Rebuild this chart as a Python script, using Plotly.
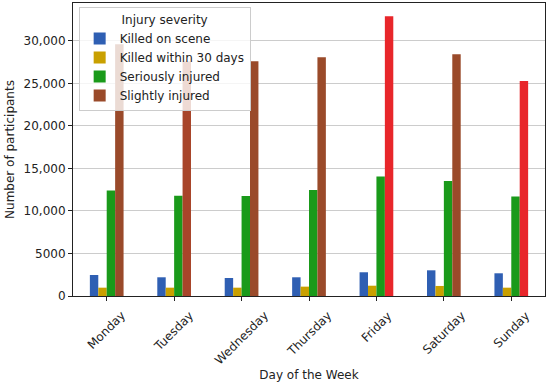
import plotly.graph_objects as go

days = ["Monday", "Tuesday", "Wednesday", "Thursday", "Friday", "Saturday", "Sunday"]
killed_on_scene = [2470, 2200, 2120, 2200, 2790, 3020, 2670]
killed_30_days = [980, 980, 980, 1100, 1210, 1180, 980]
seriously_injured = [12390, 11800, 11760, 12470, 14040, 13530, 11690]
slightly_injured = [29600, 27560, 27600, 28080, 32900, 28430, 25290]
series_names = ["Killed on scene", "Killed within 30 days", "Seriously injured", "Slightly injured"]
y_tickvals = [0, 5000, 10000, 15000, 20000, 25000, 30000]
y_ticktext = ["0", "5000", "10,000", "15,000", "20,000", "25,000", "30,000"]

FONT = "DejaVu Sans, Arial, sans-serif"
slight_colors = ["#9a4a2a", "#a8452a", "#9a4a2a", "#9a4a2a", "#e8262a", "#9a4a2a", "#e8262a"]
colors = ["#2f5fb3", "#c9a000", "#1a9a1a", slight_colors]

fig = go.Figure()
for name, vals, col in zip(series_names,
                           [killed_on_scene, killed_30_days, seriously_injured, slightly_injured],
                           colors):
    fig.add_trace(go.Bar(x=days, y=vals, name=name, marker=dict(color=col, line=dict(width=0))))

annotations = []
for d in days:
    annotations.append(dict(x=d, y=0, xref="x", yref="y", text=d, showarrow=False,
                            textangle=-45, xanchor="center", yanchor="top", yshift=-10,
                            font=dict(family=FONT, size=12, color="#222")))

fig.update_layout(
    width=550, height=385,
    margin=dict(l=73, r=5, t=3, b=89),
    paper_bgcolor="white", plot_bgcolor="white",
    barmode="group", bargap=0.5, bargroupgap=0,
    font=dict(family=FONT, size=12, color="#222"),
    showlegend=True,
    legend=dict(
        title=dict(text="Injury severity", side="top center", font=dict(size=12)),
        x=0.012, y=0.985, xanchor="left", yanchor="top",
        bgcolor="rgba(255,255,255,0.8)", bordercolor="#cccccc", borderwidth=1,
        font=dict(size=12), tracegroupgap=0, itemsizing="constant",
    ),
    annotations=annotations,
    xaxis=dict(
        range=[-0.5, 6.5], showgrid=False, showticklabels=False,
        ticks="outside", ticklen=4, tickcolor="#222",
        showline=True, linecolor="#222", linewidth=1, mirror=True,
        automargin=False,
        title=dict(text="Day of the Week", standoff=70, font=dict(size=12)),
    ),
    yaxis=dict(
        range=[0, 34450], tickvals=y_tickvals, ticktext=y_ticktext,
        showgrid=True, gridcolor="#cccccc", gridwidth=1,
        ticks="outside", ticklen=4, tickcolor="#222",
        showline=True, linecolor="#222", linewidth=1, mirror=True,
        zeroline=False, automargin=False,
        title=dict(text="Number of participants", standoff=6, font=dict(size=12)),
        tickfont=dict(size=12),
    ),
)

fig.write_html("out.html", config={"displayModeBar": False},
               post_script="document.body.style.margin='0';")
